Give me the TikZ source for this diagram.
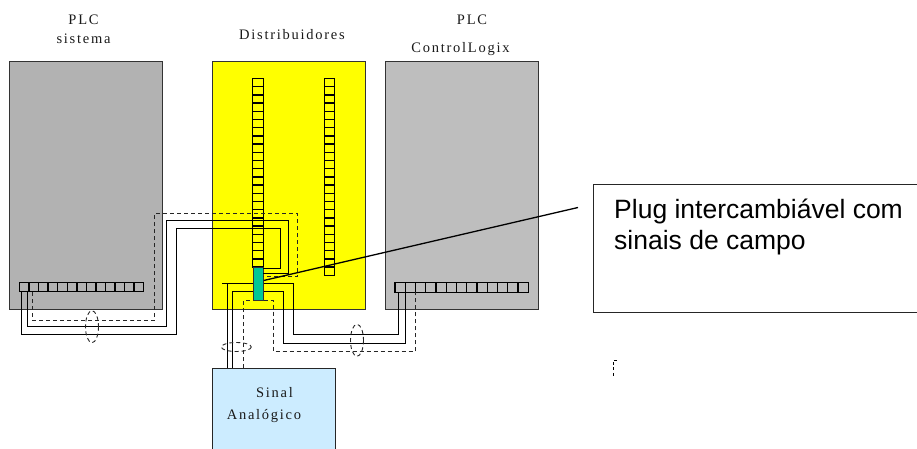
\documentclass[tikz,border=0pt]{standalone}
\usepackage{fontspec}
\usepackage{xcolor}
\newfontfamily\labelfont[LetterSpace=12]{Liberation Serif}
\newfontfamily\calloutfont{Liberation Sans}
\definecolor{plcdark}{HTML}{B2B2B2}
\definecolor{plclight}{HTML}{BEBEBE}
\definecolor{distcolor}{HTML}{FFFF00}
\definecolor{plugcolor}{HTML}{00C896}
\definecolor{sinalcolor}{HTML}{CCECFF}
\tikzset{
  panel/.style={draw=black!80,line width=1pt,inner sep=0pt,outer sep=0pt,minimum width=153pt,minimum height=247pt},
  cellh/.style={draw=black,line width=1.4pt,inner sep=0pt,outer sep=0pt,minimum height=9.5pt},
  cellv/.style={draw=black,line width=1.3pt,inner sep=0pt,outer sep=0pt,minimum width=10.5pt,minimum height=8.2pt},
  wire/.style={line width=1.05pt,black},
  dashwire/.style={line width=1.05pt,black!85,dash pattern=on 4pt off 3pt},
  txt/.style={font=\fontsize{14.5}{16}\labelfont,anchor=base,inner sep=0pt,text=black!90}
}
\begin{document}
\begin{tikzpicture}[x=1pt,y=-1pt]
  \useasboundingbox (0,0) rectangle (917,449);

  % panels
  \node[panel,fill=plcdark] (sistema) at (85.5,185.5) {};
  \node[panel,fill=distcolor] (dist) at (288.5,185.5) {};
  \node[panel,fill=plclight] (clogix) at (461.5,185.5) {};
  \node[draw=black!85,line width=1pt,fill=sinalcolor,inner sep=0pt,minimum width=123pt,minimum height=92pt] (sinal) at (273.5,414) {};

  % titles
  \node[txt] (t1) at (83.5,24.5) {PLC};
  \node[txt] (t2) at (83.5,44) {sistema};
  \node[txt] (t3) at (292,40) {Distribuidores};
  \node[txt] (t4) at (472,25) {PLC};
  \node[txt] (t5) at (460.5,53) {ControlLogix};
  \node[txt] (t6) at (274.5,397.7) {Sinal};
  \node[txt] (t7) at (264,419) {Analógico};

  % terminal strips
  \foreach \i in {1,...,13} {
    \node[cellh,minimum width=9.55pt] (ls\i) at ({19.5+9.55*(\i-0.5)},287) {};
    \node[cellh,minimum width=10.25pt] (rs\i) at ({395+10.25*(\i-0.5)},287.5) {};
  }
  \foreach \i in {1,...,23}
    \node[cellv] (da\i) at (258,{78.5+8.2*(\i-0.5)}) {};
  \foreach \i in {1,...,24}
    \node[cellv] (db\i) at (329.5,{78.5+8.2*(\i-0.5)}) {};

  % plug
  \node[draw=black!80,line width=.8pt,fill=plugcolor,inner sep=0pt,minimum width=10pt,minimum height=33pt] (plug) at (258.3,283.5) {};

  % free ends of the wires
  \coordinate (la) at (21.5,292);
  \coordinate (lb) at (27.5,292);
  \coordinate (lc) at (32.5,292);
  \coordinate (pa) at (263.3,268.5);
  \coordinate (pb) at (263.3,273.5);
  \coordinate (pc) at (263.3,276.5);
  \coordinate (sa) at (227.5,368);
  \coordinate (sb) at (232.5,368);
  \coordinate (sc) at (243.5,368);
  \coordinate (ra) at (398.5,292);
  \coordinate (rb) at (405.5,292);
  \coordinate (rc) at (415.5,292);

  % plc sistema to distribuidores
  \draw[wire] (la) -- (21.5,334.5) -- (176.5,334.5) -- (176.5,228.5) -- (280.5,228.5) -- (280.5,268.5) -- (pa);
  \draw[wire] (lb) -- (27.5,326.5) -- (166.5,326.5) -- (166.5,220.5) -- (288.5,220.5) -- (288.5,273.5) -- (pb);
  \draw[dashwire] (lc) -- (32.5,320.5) -- (154.5,320.5) -- (154.5,213.5) -- (297.5,213.5) -- (297.5,276.5) -- (pc);

  % plug to sinal
  \draw[wire] (sa) -- (227.5,283.5) -- (222,283.5) (227.5,283.5) -- (plug.west |- 0,283.5);
  \draw[wire] (sb) -- (232.5,291.5) -- (plug.west |- 0,291.5);
  \draw[dashwire] (sc) -- (243.5,300.5) -- (plug.west |- 0,300.5);

  % plug to controllogix
  \draw[wire] (plug.east |- 0,283.5) -- (293.5,283.5) -- (293.5,334.5) -- (398.5,334.5) -- (ra);
  \draw[wire] (plug.east |- 0,291.5) -- (283.5,291.5) -- (283.5,343.5) -- (405.5,343.5) -- (rb);
  \draw[dashwire] (plug.east |- 0,300.5) -- (273.5,300.5) -- (273.5,351.5) -- (415.5,351.5) -- (rc);

  % cable marks
  \draw[dashwire,line width=.9pt] (92,326.7) ellipse (6.5 and 16);
  \draw[dashwire,line width=.9pt] (236.3,347) ellipse (15 and 4.5);
  \draw[dashwire,line width=.9pt] (357,340.3) ellipse (6.5 and 16);

  % callout
  \node[draw=black!85,line width=1pt,anchor=north west,inner sep=0pt,minimum width=340pt,minimum height=128pt] (callout) at (592.7,183.7) {};
  \node[font=\fontsize{26.5}{31}\calloutfont,anchor=base west,inner sep=0pt,align=left] (ctext) at (614,249) {Plug intercambiável com\\sinais de campo};
  \coordinate (lead) at (578,207.5);
  \draw[line width=1.3pt] (plug.east |- 0,280.5) -- (lead);

  % stray mark
  \coordinate (mk) at (613.3,360);
  \draw[line width=.7pt,dash pattern=on 3pt off 2.5pt] (617,360) -- (mk) -- (613.3,377);
\end{tikzpicture}
\end{document}
